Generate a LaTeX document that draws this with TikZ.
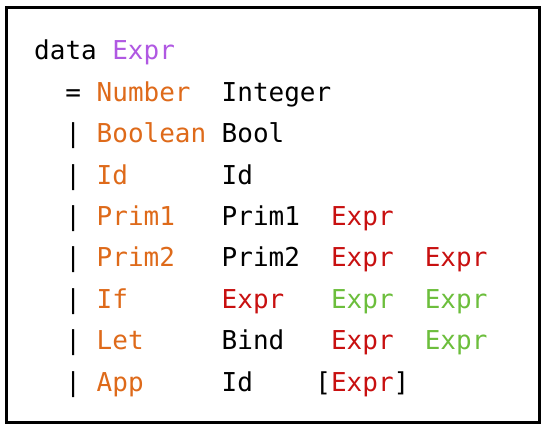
\documentclass[tikz,border=0pt]{standalone}
\usepackage{fontspec}
\setmonofont{DejaVu Sans Mono}
\usepackage{xcolor}
\usepackage{tikz}
\usetikzlibrary{positioning}

\definecolor{typepurple}{RGB}{176,88,226}
\definecolor{ctororange}{RGB}{222,106,26}
\definecolor{exprred}{RGB}{200,16,16}
\definecolor{exprgreen}{RGB}{108,190,60}

\def\cw{15.625}
\def\xo{34}

\begin{document}
\begin{tikzpicture}[
    x=1pt, y=-1pt,
    code/.style={anchor=base west, inner sep=0pt, font=\fontsize{26}{26}\selectfont\ttfamily},
    plain/.style={code, text=black},
    typename/.style={code, text=typepurple},
    ctor/.style={code, text=ctororange},
    recexpr/.style={code, text=exprred},
    subexpr/.style={code, text=exprgreen},
    frame/.style={draw, line width=3pt}
]
\useasboundingbox (0,0) rectangle (546,430);
\draw[frame] (6.5,7.5) rectangle (539.5,422.5);

% header
\node[plain] (data) at ({\xo+0*\cw},60) {data};
\node[typename] (exprtype) at ({\xo+5*\cw},60) {Expr};

% constructors
\node[plain] (eq) at ({\xo+2*\cw},101.4) {=};
\node[ctor] (number) at ({\xo+4*\cw},101.4) {Number};
\node[plain] (integer) at ({\xo+12*\cw},101.4) {Integer};

\node[plain] (bar1) at ({\xo+2*\cw},142.8) {|};
\node[ctor] (boolean) at ({\xo+4*\cw},142.8) {Boolean};
\node[plain] (bool) at ({\xo+12*\cw},142.8) {Bool};

\node[plain] (bar2) at ({\xo+2*\cw},184.2) {|};
\node[ctor] (id) at ({\xo+4*\cw},184.2) {Id};
\node[plain] (idarg) at ({\xo+12*\cw},184.2) {Id};

\node[plain] (bar3) at ({\xo+2*\cw},225.6) {|};
\node[ctor] (prima) at ({\xo+4*\cw},225.6) {Prim1};
\node[plain] (primaop) at ({\xo+12*\cw},225.6) {Prim1};
\node[recexpr] (primaarg) at ({\xo+19*\cw},225.6) {Expr};

\node[plain] (bar4) at ({\xo+2*\cw},267) {|};
\node[ctor] (primb) at ({\xo+4*\cw},267) {Prim2};
\node[plain] (primbop) at ({\xo+12*\cw},267) {Prim2};
\node[recexpr] (primbl) at ({\xo+19*\cw},267) {Expr};
\node[recexpr] (primbr) at ({\xo+25*\cw},267) {Expr};

\node[plain] (bar5) at ({\xo+2*\cw},308.4) {|};
\node[ctor] (if) at ({\xo+4*\cw},308.4) {If};
\node[recexpr] (ifcond) at ({\xo+12*\cw},308.4) {Expr};
\node[subexpr] (ifthen) at ({\xo+19*\cw},308.4) {Expr};
\node[subexpr] (ifelse) at ({\xo+25*\cw},308.4) {Expr};

\node[plain] (bar6) at ({\xo+2*\cw},349.8) {|};
\node[ctor] (let) at ({\xo+4*\cw},349.8) {Let};
\node[plain] (bind) at ({\xo+12*\cw},349.8) {Bind};
\node[recexpr] (letrhs) at ({\xo+19*\cw},349.8) {Expr};
\node[subexpr] (letbody) at ({\xo+25*\cw},349.8) {Expr};

\node[plain] (bar7) at ({\xo+2*\cw},391.2) {|};
\node[ctor] (app) at ({\xo+4*\cw},391.2) {App};
\node[plain] (appfun) at ({\xo+12*\cw},391.2) {Id};
\node[plain] (lbrack) at ({\xo+18*\cw},391.2) {[};
\node[recexpr] (appargs) at ({\xo+19*\cw},391.2) {Expr};
\node[plain] (rbrack) at ({\xo+23*\cw},391.2) {]};

\end{tikzpicture}
\end{document}
